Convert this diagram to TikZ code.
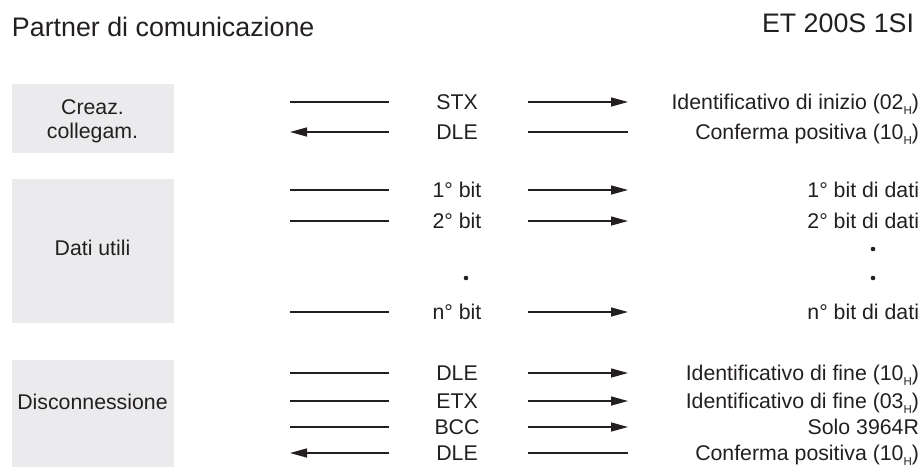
\documentclass[tikz,border=0pt]{standalone}
\usepackage{fontspec}
\setmainfont{Liberation Sans}
\usetikzlibrary{arrows.meta}
\definecolor{boxgray}{HTML}{EBEBED}
\definecolor{ink}{HTML}{231F20}
% lowered small H used as hexadecimal marker
\newcommand{\hsub}{\raisebox{-0.42ex}{\fontsize{11.5}{11.5}\selectfont H}}

\begin{document}
\begin{tikzpicture}[x=1pt,y=-1pt,
  every node/.style={inner sep=0pt,outer sep=0pt,text=ink,font=\fontsize{21.3}{24}\selectfont},
  phase/.style={fill=boxgray,draw=none,minimum width=162pt,anchor=north west},
  wire/.style={draw=ink,line width=1.45pt},
  tip/.style={-{Triangle[length=17pt,width=9pt]}},
  title/.style={font=\fontsize{26.8}{30}\selectfont},
  dot/.style={circle,fill=ink,minimum size=4.6pt}
]
\useasboundingbox (0,0) rectangle (923,466);

% headings
\node[title,anchor=base west] (head1) at (12,36.7) {Partner di comunicazione};
\node[title,anchor=base east] (head2) at (914,32.7) {ET 200S 1SI};

% phase boxes
\node[phase,minimum height=69pt] (ph1) at (12,84) {};
\node[phase,minimum height=144pt] (ph2) at (12,179) {};
\node[phase,minimum height=110pt] (ph3) at (12,360) {};
\node[align=center] (ph1t) at (92.5,121) {Creaz.\\collegam.};
\node (ph2t) at (92.5,248) {Dati utili};
\node (ph3t) at (92.5,402) {Disconnessione};

% telegram rows: y / middle label / right label / direction (1 = to the right)
\foreach \y/\mid/\rt/\dir [count=\i] in {
  102/STX/Identificativo di inizio (02\hsub)/1,
  132/DLE/Conferma positiva (10\hsub)/0,
  190/1° bit/1° bit di dati/1,
  221/2° bit/2° bit di dati/1,
  312/n° bit/n° bit di dati/1,
  373/DLE/Identificativo di fine (10\hsub)/1,
  401/ETX/Identificativo di fine (03\hsub)/1,
  427/BCC/Solo 3964R/1,
  453/DLE/Conferma positiva (10\hsub)/0}{
  \coordinate (la\i) at (290,\y);
  \coordinate (lb\i) at (389,\y);
  \coordinate (ra\i) at (528,\y);
  \coordinate (rb\i) at (628,\y);
  \node[anchor=base] (mid\i) at (457,\y+7.7) {\mid};
  \node[anchor=base east] (rt\i) at (919,\y+7.7) {\rt};
  \ifnum\dir=1
    \draw[wire] (la\i) -- (lb\i);
    \draw[wire,tip] (ra\i) -- (rb\i);
  \else
    \draw[wire,tip] (lb\i) -- (la\i);
    \draw[wire] (ra\i) -- (rb\i);
  \fi
}

% ellipsis dots
\node[dot] (dm) at (466,278) {};
\node[dot] (dr1) at (873,249) {};
\node[dot] (dr2) at (873,278) {};
\end{tikzpicture}
\end{document}
